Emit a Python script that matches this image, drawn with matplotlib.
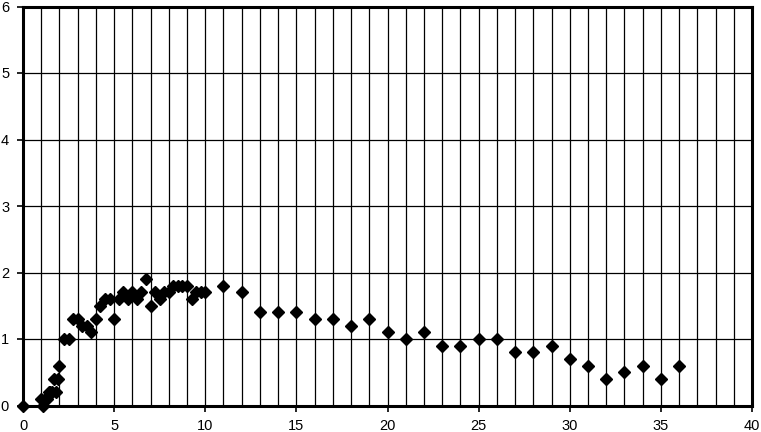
import numpy as np
import matplotlib.pyplot as plt
from matplotlib.ticker import MultipleLocator

# data
x_early = [0, 1.0, 1.1, 1.2, 1.3, 1.4, 1.5, 1.6, 1.7, 1.8, 1.9, 2.0]
y_early = [0, 0.1, 0.0, 0.1, 0.1, 0.2, 0.2, 0.2, 0.4, 0.2, 0.4, 0.6]

x_mid = [2.25, 2.5, 2.75, 3.0, 3.25, 3.5, 3.75, 4.0,
         4.25, 4.5, 4.75, 5.0, 5.25, 5.5, 5.75, 6.0,
         6.25, 6.5, 6.75, 7.0, 7.25, 7.5, 7.75, 8.0,
         8.25, 8.5, 8.75, 9.0, 9.25, 9.5, 9.75, 10.0]
y_mid = [1.0, 1.0, 1.3, 1.3, 1.2, 1.2, 1.1, 1.3,
         1.5, 1.6, 1.6, 1.3, 1.6, 1.7, 1.6, 1.7,
         1.6, 1.7, 1.9, 1.5, 1.7, 1.6, 1.7, 1.7,
         1.8, 1.8, 1.8, 1.8, 1.6, 1.7, 1.7, 1.7]

x_late = list(range(11, 37))
y_late = [1.8, 1.7, 1.4, 1.4, 1.4, 1.3, 1.3, 1.2, 1.3, 1.1,
          1.0, 1.1, 0.9, 0.9, 1.0, 1.0, 0.8, 0.8, 0.9, 0.7,
          0.6, 0.4, 0.5, 0.6, 0.4, 0.6]

xs = x_early + x_mid + x_late
ys = y_early + y_mid + y_late

plt.rcParams['font.family'] = ['Liberation Sans', 'DejaVu Sans']

fig = plt.figure(figsize=(7.61, 4.32), dpi=100)
ax = fig.add_axes([23 / 761, 26.5 / 432, 729 / 761, 399 / 432])

ax.plot(xs, ys, linestyle='none', marker='D', color='black', markersize=5.8, zorder=3, clip_on=False)

ax.set_xlim(0, 40)
ax.set_ylim(0, 6)
ax.xaxis.set_major_locator(MultipleLocator(5))
ax.xaxis.set_minor_locator(MultipleLocator(1))
ax.yaxis.set_major_locator(MultipleLocator(1))

ax.grid(True, which='both', axis='x', color='black', linewidth=0.9)
ax.grid(True, which='major', axis='y', color='black', linewidth=0.9)
ax.set_axisbelow(True)

ax.tick_params(axis='both', which='major', direction='out', length=4, width=1.2,
               labelsize=10.5, color='black', pad=6)
ax.tick_params(axis='x', which='minor', length=0)

for s in ax.spines.values():
    s.set_linewidth(2.2)
    s.set_color('black')

fig.savefig('out.png', dpi=100)
